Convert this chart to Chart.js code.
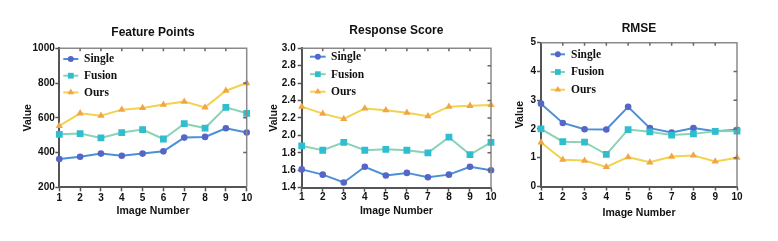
<!DOCTYPE html>
<html><head><meta charset="utf-8">
<script src="https://cdn.jsdelivr.net/npm/chart.js@4/dist/chart.umd.min.js"></script>
<style>
html,body{margin:0;padding:0;background:#fff;}
#wrap{position:relative;width:778px;height:241px;overflow:hidden;}
canvas{position:absolute;top:0;}
</style></head>
<body><div id="wrap">
<canvas id="c1" width="260" height="241" style="left:0px;width:260px;height:241px"></canvas>
<canvas id="c2" width="245" height="241" style="left:260px;width:245px;height:241px"></canvas>
<canvas id="c3" width="273" height="241" style="left:505px;width:273px;height:241px"></canvas>
</div>
<script>
const imageNumbers = ['1','2','3','4','5','6','7','8','9','10'];
const seriesNames = ['Single','Fusion','Ours'];

const featureSingle = [363, 376, 394, 382, 394, 407, 486, 490, 540, 515];
const featureFusion = [505, 509, 484, 515, 532, 478, 566, 541, 660, 626];
const featureOurs   = [553, 626, 612, 647, 657, 676, 693, 660, 756, 800];

const responseSingle = [1.61, 1.55, 1.46, 1.64, 1.54, 1.57, 1.52, 1.55, 1.64, 1.60];
const responseFusion = [1.88, 1.83, 1.92, 1.83, 1.84, 1.83, 1.80, 1.98, 1.78, 1.92];
const responseOurs   = [2.33, 2.25, 2.19, 2.31, 2.29, 2.26, 2.22, 2.33, 2.34, 2.35];

const rmseSingle = [2.88, 2.21, 1.99, 1.98, 2.77, 2.03, 1.88, 2.03, 1.92, 1.97];
const rmseFusion = [2.00, 1.56, 1.54, 1.12, 1.98, 1.90, 1.79, 1.83, 1.92, 1.93];
const rmseOurs   = [1.53, 0.93, 0.90, 0.68, 1.02, 0.84, 1.04, 1.08, 0.87, 1.00];

const featureTicks = {min: 200, max: 1000, step: 200};
const responseTicks = {min: 1.4, max: 3.0, step: 0.2};
const rmseTicks = {min: 0, max: 5, step: 1};

const seriesStyle = [
  {line:'#4b8fd6', point:'#5566c6', style:'circle', r:3.3},
  {line:'#8ad3b5', point:'#2fbdd0', style:'rect', r:4.8},
  {line:'#f3d24d', point:'#f0a646', style:'triangle', r:4.2}
];

function drawMarker(ctx, style, r, x, y, color){
  ctx.save();
  ctx.fillStyle = color;
  ctx.beginPath();
  if (style === 'circle') { ctx.arc(x, y, r, 0, Math.PI*2); }
  else if (style === 'rect') { const s = r*Math.SQRT1_2; ctx.rect(x-s, y-s, 2*s, 2*s); }
  else { ctx.moveTo(x, y - r); ctx.lineTo(x + r*Math.sin(Math.PI/3), y + r*0.5); ctx.lineTo(x - r*Math.sin(Math.PI/3), y + r*0.5); ctx.closePath(); }
  ctx.fill();
  ctx.restore();
}

const framePlugin = {
  id: 'frame',
  afterDraw(chart, args, opts) {
    const ctx = chart.ctx;
    const a = chart.chartArea;
    const xs = chart.scales.x, ys = chart.scales.y;
    ctx.save();
    ctx.strokeStyle = '#8a8a8a';
    ctx.lineWidth = 1.5;
    ctx.beginPath();
    ctx.moveTo(a.left, a.top); ctx.lineTo(a.right, a.top); ctx.lineTo(a.right, a.bottom);
    ctx.stroke();
    ctx.strokeStyle = '#666';
    ctx.lineWidth = 1.5;
    ctx.beginPath();
    xs.ticks.forEach((t, i) => {
      const px = xs.getPixelForTick(i);
      if (px > a.left + 1 && px < a.right - 1) { ctx.moveTo(px, a.top); ctx.lineTo(px, a.top + 3); }
    });
    ys.ticks.forEach((t) => {
      const py = ys.getPixelForValue(t.value);
      if (py > a.top + 1 && py < a.bottom - 1) { ctx.moveTo(a.right, py); ctx.lineTo(a.right - 3.5, py); }
    });
    ctx.stroke();
    const L = opts.legend;
    ctx.font = 'bold 11.5px "Liberation Serif", "Times New Roman", serif';
    ctx.textBaseline = 'middle';
    ctx.textAlign = 'left';
    chart.data.datasets.forEach((ds, i) => {
      const st = seriesStyle[i];
      const y = a.top + L.dy + i * L.rowH;
      ctx.strokeStyle = st.line; ctx.lineWidth = 2;
      ctx.beginPath(); ctx.moveTo(a.left + L.s0, y); ctx.lineTo(a.left + L.s1, y); ctx.stroke();
      drawMarker(ctx, st.style, st.r * (i===1?0.85:0.9), a.left + (L.s0 + L.s1)/2, y, st.point);
      ctx.fillStyle = '#111';
      ctx.fillText(ds.label, a.left + L.tx, y + 0.5);
    });
    ctx.restore();
  }
};

function makeChart(id, title, data, tk, geo) {
  const datasets = data.map((vals, i) => ({
    label: seriesNames[i],
    data: vals,
    borderColor: seriesStyle[i].line,
    backgroundColor: seriesStyle[i].point,
    pointBackgroundColor: seriesStyle[i].point,
    pointBorderWidth: 0,
    pointStyle: seriesStyle[i].style,
    pointRadius: seriesStyle[i].r,
    borderWidth: 2,
    tension: 0,
    order: 3 - i
  }));
  return new Chart(document.getElementById(id), {
    type: 'line',
    data: { labels: imageNumbers, datasets },
    plugins: [framePlugin],
    options: {
      responsive: false,
      animation: false,
      devicePixelRatio: 1,
      layout: { padding: { left: geo.pl, right: geo.pr, top: 0, bottom: geo.pb } },
      plugins: {
        legend: { display: false },
        tooltip: { enabled: false },
        title: {
          display: true, text: title, fullSize: false, color: '#111',
          font: { family: '"Liberation Sans", Arial, sans-serif', size: 12, weight: 'bold', lineHeight: 1.2 },
          padding: { top: geo.tt, bottom: geo.tb }
        },
        frame: { legend: geo.legend }
      },
      scales: {
        x: {
          type: 'category', offset: false,
          afterFit(s) { s.height = geo.xh; },
          grid: { drawOnChartArea: false, drawTicks: true, tickLength: 4, tickColor: '#555', tickWidth: 1.5 },
          border: { display: true, color: '#555', width: 2 },
          ticks: { color: '#111', padding: geo.xpad, maxRotation: 0, autoSkip: false,
            font: { family: '"Liberation Sans", Arial, sans-serif', size: 10, weight: 'bold' } },
          title: { display: true, text: 'Image Number', color: '#111', padding: { top: 0, bottom: 4 },
            font: { family: '"Liberation Sans", Arial, sans-serif', size: 10.5, weight: 'bold', lineHeight: 1.2 } }
        },
        y: {
          min: tk.min, max: tk.max,
          afterFit(s) { s.width = geo.yw; },
          afterBuildTicks(s) {
            const arr = [];
            const n = Math.round((tk.max - tk.min) / tk.step);
            for (let k = 0; k <= n; k++) arr.push({ value: +(tk.min + k * tk.step).toFixed(4) });
            s.ticks = arr;
          },
          grid: { drawOnChartArea: false, drawTicks: true, tickLength: 4, tickColor: '#555', tickWidth: 1.5 },
          border: { display: true, color: '#555', width: 2 },
          ticks: { color: '#111', padding: geo.ypad,
            callback: (v) => tk.step < 1 ? Number(v).toFixed(1) : String(Math.round(v)),
            font: { family: '"Liberation Sans", Arial, sans-serif', size: 10, weight: 'bold' } },
          title: { display: true, text: 'Value', color: '#111', padding: { top: 5, bottom: 0 },
            font: { family: '"Liberation Sans", Arial, sans-serif', size: 10.5, weight: 'bold', lineHeight: 1.2 } }
        }
      }
    }
  });
}

makeChart('c1', 'Feature Points', [featureSingle, featureFusion, featureOurs], featureTicks,
  { pl: 17, pr: 13.3, pb: 20, yw: 42.3, xh: 33.7, tt: 25.5, tb: 8.4, xpad: 0.5, ypad: 0.5,
    legend: { dy: 10.7, rowH: 16.7, s0: 4, s1: 19, tx: 24.7 } });
makeChart('c2', 'Response Score', [responseSingle, responseFusion, responseOurs], responseTicks,
  { pl: 3.3, pr: 14, pb: 19.3, yw: 38.4, xh: 34, tt: 23.8, tb: 10.1, xpad: 0, ypad: 2,
    legend: { dy: 8.4, rowH: 17.5, s0: 8.3, s1: 24, tx: 29.3 } });
makeChart('c3', 'RMSE', [rmseSingle, rmseFusion, rmseOurs], rmseTicks,
  { pl: 4, pr: 41, pb: 17.7, yw: 32, xh: 36.8, tt: 21.1, tb: 7.2, xpad: 1, ypad: 1,
    legend: { dy: 11.6, rowH: 17.7, s0: 9.7, s1: 24, tx: 30 } });
</script>
</body></html>
